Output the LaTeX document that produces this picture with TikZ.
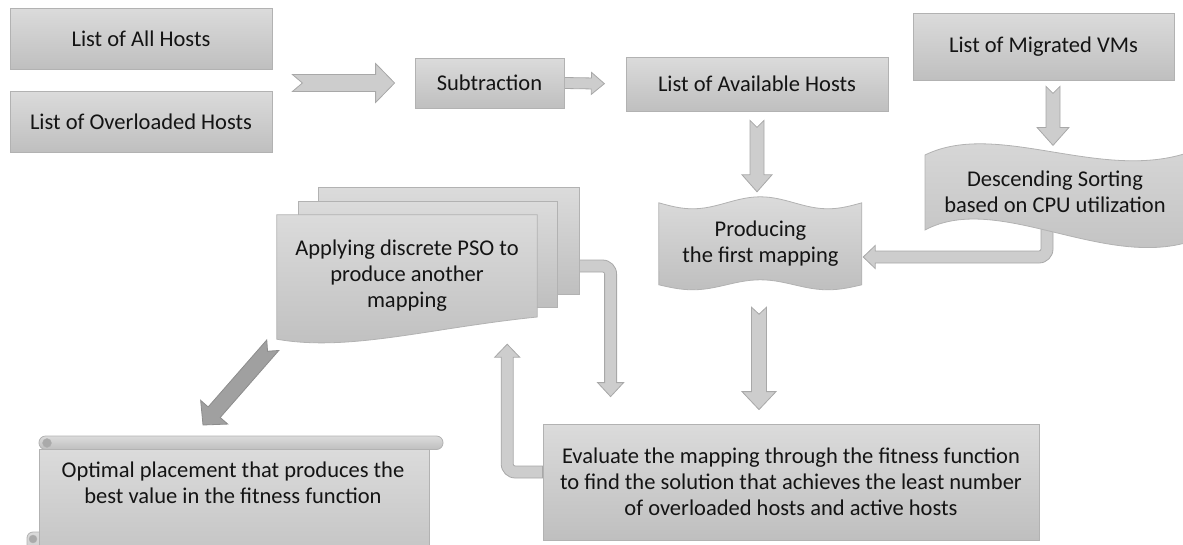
\documentclass[tikz,border=0pt]{standalone}
\usepackage{fontspec}
\setmainfont{Carlito}
\usetikzlibrary{calc,backgrounds}

\definecolor{boxtop}{RGB}{219,219,219}
\definecolor{boxbot}{RGB}{191,191,191}
\definecolor{boxline}{RGB}{178,178,178}
\definecolor{arrfill}{RGB}{205,205,205}
\definecolor{arrline}{RGB}{168,168,168}
\definecolor{darkfill}{RGB}{160,160,160}
\definecolor{darkline}{RGB}{140,140,140}
\definecolor{curl}{RGB}{170,170,170}
\definecolor{txt}{RGB}{20,20,20}

\tikzset{
  box/.style={draw=boxline,line width=0.8pt,top color=boxtop,bottom color=boxbot,inner sep=0pt,align=center},
  txtnode/.style={inner sep=0pt,align=center},
  wavy/.style={draw=boxline,line width=0.8pt,top color=boxtop,bottom color=boxbot},
  barrow/.style={draw=arrline,fill=arrfill,line width=0.8pt},
  darkarrow/.style={draw=darkline,fill=darkfill},
}

% block arrow: from, to, shaft half width, head half width, head length, notch
\newcommand{\blockarrow}[7][]{%
  \coordinate (ba) at (#2);
  \coordinate (bb) at (#3);
  \coordinate (bh) at ($(bb)!#6!(ba)$);
  \filldraw[barrow,#1] ($(ba)!#4!90:(bb)$) -- ($(bh)!#4!90:(bb)$) -- ($(bh)!#5!90:(bb)$) -- (bb)
    -- ($(bh)!#5!-90:(bb)$) -- ($(bh)!#4!-90:(bb)$) -- ($(ba)!#4!-90:(bb)$) -- ($(ba)!#7!(bb)$) -- cycle;
}

\begin{document}
\begin{tikzpicture}[x=1pt,y=-1pt,font=\fontsize{22.5}{26}\selectfont,text=txt]
\useasboundingbox (0,0) rectangle (1183,544);

% boxes
\node[box,minimum width=262pt,minimum height=61pt] (allhosts) at (141,38.5) {List of All Hosts};
\node[box,minimum width=262pt,minimum height=61pt] (overhosts) at (141,121.5) {List of Overloaded Hosts};
\node[box,minimum width=149pt,minimum height=50pt] (subtr) at (489.5,83) {Subtraction};
\node[box,minimum width=262pt,minimum height=54pt] (avail) at (757,84) {List of Available Hosts};
\node[box,minimum width=261pt,minimum height=67pt] (migrated) at (1043.5,46.5) {List of Migrated VMs};
\node[box,minimum width=496pt,minimum height=116pt] (eval) at (791,482) {Evaluate the mapping through the fitness function\\to find the solution that achieves the least number\\of overloaded hosts and active hosts};

% texts of the drawn shapes
\node[txtnode,minimum width=203pt,minimum height=82pt] (prod) at (760.5,244) {Producing\\the first mapping};
\node[txtnode] (sort) at (1055,191.5) {Descending Sorting\\based on CPU utilization};
\node[txtnode,minimum width=260pt,minimum height=122pt] (pso) at (407,276) {Applying discrete PSO to\\produce another\\mapping};
\node[txtnode] (optimal) at (233,483) {Optimal placement that produces the\\best value in the fitness function};
\coordinate (scrolltop) at (233,436);

\begin{scope}[on background layer]
% straight arrows
\blockarrow{$(allhosts.east)!.5!(overhosts.east)+(20,3)$}{$(subtr.west)+(-20,0)$}{8.5pt}{19.5pt}{19pt}{10pt}
\blockarrow{subtr.east}{$(subtr.east)!40pt!(avail.west)$}{5.5pt}{11pt}{13pt}{0pt}
\blockarrow{$(avail.south)+(0,9)$}{$(avail.south |- prod.north)+(0,-11)$}{7pt}{15pt}{17pt}{7pt}
\blockarrow{$(migrated.south)+(9.5,6)$}{$(migrated.south)+(9.5,65)$}{7pt}{16pt}{18pt}{7pt}
\blockarrow{$(prod.south)+(-1.5,22)$}{$(prod.south |- eval.north)+(-1.5,-14)$}{7.5pt}{17pt}{18pt}{7pt}
\blockarrow[darkarrow]{$(pso.south west)+(-4,8)$}{$(scrolltop)+(-30,-11)$}{8pt}{18pt}{17pt}{8pt}

% elbow arrows
\coordinate (s1) at ($(sort.center)+(-8,24)$);
\coordinate (t1) at ($(prod.east)+(1,13)$);
\filldraw[barrow] ($(s1)+(6,0)$) -- ($(s1 |- t1)+(6,-8)$) arc[start angle=0,end angle=-90,radius=14pt]
  -- ($(t1)+(12,6)$) -- ($(t1)+(12,11.5)$) -- (t1) -- ($(t1)+(12,-11.5)$) -- ($(t1)+(12,-6)$)
  -- ($(s1 |- t1)+(-8,-6)$) arc[start angle=-90,end angle=0,radius=2pt] -- ($(s1)+(-6,0)$) -- cycle;

\coordinate (s2) at ($(pso.east)+(38,-10)$);
\coordinate (t2) at ($(eval.north west)+(68,-27)$);
\filldraw[barrow] ($(s2)+(0,-6)$) -- ($(t2 |- s2)+(-8,-6)$) arc[start angle=90,end angle=0,radius=14pt]
  -- ($(t2)+(6,-14)$) -- ($(t2)+(13,-14)$) -- (t2) -- ($(t2)+(-13,-14)$) -- ($(t2)+(-6,-14)$)
  -- ($(t2 |- s2)+(-6,8)$) arc[start angle=0,end angle=90,radius=2pt] -- ($(s2)+(0,6)$) -- cycle;

\coordinate (s3) at ($(eval.west)+(0,-10)$);
\coordinate (t3) at ($(pso.south east)+(-30,7)$);
\filldraw[barrow] ($(s3)+(0,6)$) -- ($(t3 |- s3)+(8,6)$) arc[start angle=-90,end angle=-180,radius=14pt]
  -- ($(t3)+(-6,13)$) -- ($(t3)+(-12.5,13)$) -- (t3) -- ($(t3)+(12.5,13)$) -- ($(t3)+(6,13)$)
  -- ($(t3 |- s3)+(6,-8)$) arc[start angle=180,end angle=270,radius=2pt] -- ($(s3)+(0,-6)$) -- cycle;

% double wave
\path[wavy,shift={(prod.north west)}] plot[domain=0:1,samples=41] ({203*\x},{6*sin(540*\x)})
  -- plot[domain=1:0,samples=41] ({203*\x},{82+5*sin(540*\x)}) -- cycle;

% wave
\path[wavy] (925,155) .. controls (1000,118) and (1110,188) .. (1200,148) -- (1200,238)
  .. controls (1110,275) and (1000,190) .. (925,230) -- cycle;

% stack of documents
\path[wavy] ($(pso.north west)+(42,-27)$) rectangle ($(pso.east)+(42,18)$);
\path[wavy] ($(pso.north west)+(22,-13)$) rectangle ($(pso.east)+(20,31)$);
\path[wavy] (pso.north west) -- (pso.north east) -- ($(pso.east)+(0,41)$)
  .. controls ($(pso.east)+(-108,52)$) and ($(pso.east)+(-188,76)$) .. ($(pso.south west)+(0,2)$) -- cycle;

% scroll
\path[wavy,rounded corners=6pt] (27,532) rectangle (45,575);
\path[wavy] (39,449) rectangle (429,580);
\path[wavy,rounded corners=6.5pt] (39,436) rectangle (443,449.5);
\filldraw[draw=boxline,fill=curl] (47,443) circle (4.5pt);
\filldraw[draw=boxline,fill=curl] (33,539) circle (4pt);
\end{scope}

\end{tikzpicture}
\end{document}
